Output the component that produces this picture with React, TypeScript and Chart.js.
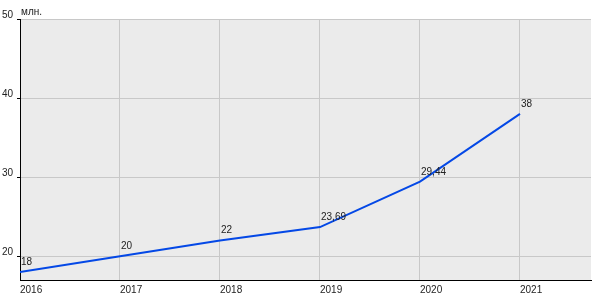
import React, { useEffect, useRef } from "react";
import { Chart, registerables } from "chart.js";

Chart.register(...registerables);

const years = [2016, 2017, 2018, 2019, 2020, 2021];
const values = [18, 20, 22, 23.69, 29.44, 38];
const valueLabels = ["18", "20", "22", "23,69", "29,44", "38"];
const yTicks = [20, 30, 40, 50];
const unitLabel = "млн.";

const FONT = "'Liberation Sans', Arial, sans-serif";

export default function App() {
  const ref = useRef<HTMLCanvasElement | null>(null);

  useEffect(() => {
    document.body.style.margin = "0";
    if (!ref.current) return;

    const bgPlugin = {
      id: "bgPlugin",
      beforeDraw(chart: any) {
        const { ctx, chartArea } = chart;
        ctx.save();
        ctx.fillStyle = "#EBEBEB";
        ctx.fillRect(chartArea.left, chartArea.top, chartArea.right - chartArea.left, chartArea.bottom - chartArea.top);
        ctx.restore();
      },
      afterDraw(chart: any) {
        const { ctx, chartArea } = chart;
        ctx.save();
        ctx.font = `10px ${FONT}`;
        ctx.fillStyle = "#222";
        ctx.textAlign = "left";
        ctx.textBaseline = "alphabetic";
        ctx.fillText(unitLabel, chartArea.left + 1, 15);
        const meta = chart.getDatasetMeta(0);
        meta.data.forEach((pt: any, i: number) => {
          ctx.fillText(valueLabels[i], pt.x + 1, pt.y - 7);
        });
        ctx.restore();
      },
    };

    const chart = new Chart(ref.current, {
      type: "line",
      data: {
        datasets: [
          {
            data: years.map((y, i) => ({ x: y, y: values[i] })),
            borderColor: "#0448e6",
            borderWidth: 2,
            pointRadius: 0,
            tension: 0,
            fill: false,
          },
        ],
      },
      options: {
        animation: false,
        responsive: false,
        layout: { padding: { top: 19, right: 9, bottom: 0, left: 0 } },
        plugins: { legend: { display: false }, tooltip: { enabled: false } },
        scales: {
          x: {
            type: "linear",
            min: 2016,
            max: 2021.71,
            afterFit(scale: any) {
              scale.height = 20;
            },
            afterBuildTicks(scale: any) {
              scale.ticks = years.map((v) => ({ value: v }));
            },
            ticks: {
              align: "start",
              padding: 4,
              color: "#222",
              font: { family: FONT, size: 10 },
              callback: (v: any) => String(v),
              maxRotation: 0,
              autoSkip: false,
            },
            grid: { color: "#C8C8C8", drawTicks: false, lineWidth: 1 },
            border: { color: "#000", width: 1 },
          },
          y: {
            min: 17,
            max: 50,
            afterFit(scale: any) {
              scale.width = 20;
            },
            afterBuildTicks(scale: any) {
              scale.ticks = yTicks.map((v) => ({ value: v }));
            },
            ticks: {
              padding: 4,
              labelOffset: -4,
              color: "#222",
              font: { family: FONT, size: 10 },
              callback: (v: any) => String(v),
            },
            grid: { color: "#C8C8C8", tickColor: "#000", tickLength: 3, lineWidth: 1 },
            border: { color: "#000", width: 1 },
          },
        },
      },
      plugins: [bgPlugin],
    } as any);

    return () => chart.destroy();
  }, []);

  return <canvas ref={ref} width={600} height={300} style={{ display: "block" }} />;
}
